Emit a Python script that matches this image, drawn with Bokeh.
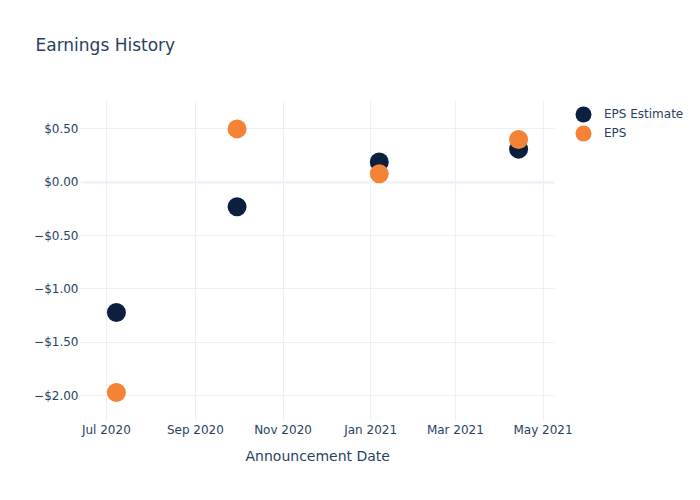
import pandas as pd
from bokeh.plotting import figure
from bokeh.models import (ColumnDataSource, Legend, LegendItem, FixedTicker, Grid, Title,
                          DatetimeTickFormatter, CustomJSTickFormatter, Range1d, BoxAnnotation)
from bokeh.embed import file_html
from bokeh.resources import INLINE

# ---- data ----
announcement_dates = ["2020-07-08", "2020-09-30", "2021-01-07", "2021-04-14"]
eps_estimate = [-1.22, -0.23, 0.19, 0.31]
eps_actual = [-1.97, 0.50, 0.08, 0.40]
x_tick_dates = ["2020-07-01", "2020-09-01", "2020-11-01", "2021-01-01", "2021-03-01", "2021-05-01"]
y_ticks = [-2.0, -1.5, -1.0, -0.5, 0.0, 0.5]
x_range_dates = ["2020-06-13", "2021-05-09"]
y_range_vals = [-2.233, 0.766]

TXT = "#2a3f5f"
GRID = "#EBF0F8"
FONT = "DejaVu Sans"
C_EST = "#0c1f3f"
C_EPS = "#f58235"

# layout (pixels)
W, H = 692, 492
LEFT, TOP, BOTTOM = 80, 100, 72
PLOT_W = 474          # visible plotting area width
FRAME_W = W - LEFT - 2  # frame extends under the legend area

src = ColumnDataSource(dict(
    date=pd.to_datetime(announcement_dates),
    est=eps_estimate,
    eps=eps_actual,
))

x0 = pd.Timestamp(x_range_dates[0])
x1 = pd.Timestamp(x_range_dates[1])
x_end = x0 + (x1 - x0) * (FRAME_W / PLOT_W)

p = figure(width=W, height=H, x_axis_type="datetime",
           output_backend="svg", toolbar_location=None,
           x_range=Range1d(x0, x_end),
           y_range=Range1d(y_range_vals[0], y_range_vals[1]),
           min_border_left=LEFT, min_border_right=2, min_border_top=TOP, min_border_bottom=BOTTOM)

p.outline_line_color = None
p.background_fill_color = "white"
p.border_fill_color = "white"
p.title.text = ""

# spacer between title and frame, then the title itself
p.add_layout(Title(text=" ", text_font_size="1px", standoff=12), "above")
p.add_layout(Title(text="Earnings History", text_font=FONT, text_font_size="17px",
                   text_font_style="normal", text_color=TXT, align="left",
                   offset=-45, standoff=62), "above")

# axes
xa = p.xaxis[0]
xa.ticker = FixedTicker(ticks=[pd.Timestamp(d).value / 1e6 for d in x_tick_dates])
xa.formatter = DatetimeTickFormatter(months="%b %Y", days="%b %Y", years="%b %Y",
                                     hours="%b %Y", minutes="%b %Y", seconds="%b %Y")

ya = p.yaxis[0]
ya.ticker = FixedTicker(ticks=y_ticks)
ya.formatter = CustomJSTickFormatter(code="""
    const v = Math.abs(tick) < 1e-9 ? 0 : tick;
    return (v < 0 ? '\\u2212' : '') + '$' + Math.abs(v).toFixed(2);
""")

for ax in (xa, ya):
    ax.axis_line_color = None
    ax.major_tick_line_color = None
    ax.minor_tick_line_color = None
    ax.major_tick_out = 0
    ax.major_tick_in = 0
    ax.minor_tick_out = 0
    ax.major_label_text_font = FONT
    ax.major_label_text_font_size = "12px"
    ax.major_label_text_color = TXT
    ax.major_label_standoff = 2

# x axis title, centred under the visible plotting area
p.add_layout(Title(text="Announcement Date", text_font=FONT, text_font_size="14px",
                   text_font_style="normal", text_color=TXT, align="left",
                   offset=165, standoff=12), "below")

# grids
p.xgrid.ticker = xa.ticker
p.ygrid.ticker = ya.ticker
p.xgrid.grid_line_color = GRID
p.ygrid.grid_line_color = GRID
zero_grid = Grid(dimension=1, ticker=FixedTicker(ticks=[0.0]), grid_line_color=GRID, grid_line_width=2)
p.add_layout(zero_grid, "center")
# blank out grid lines to the right of the plotting area (legend area)
p.add_layout(BoxAnnotation(left=x1, fill_color="white", fill_alpha=1.0, line_color=None,
                           level="underlay"), "center")

r_est = p.scatter("date", "est", source=src, size=19, color=C_EST, line_width=0)
r_eps = p.scatter("date", "eps", source=src, size=19, color=C_EPS, line_width=0)


def make_legend(label, renderer, vy):
    lg = Legend(items=[LegendItem(label=label, renderers=[renderer])],
                location=(PLOT_W + 9, vy), orientation="vertical")
    lg.glyph_width = 40
    lg.glyph_height = 40
    lg.padding = 0
    lg.margin = 0
    lg.label_standoff = 1
    lg.label_text_font = FONT
    lg.label_text_font_size = "12px"
    lg.label_text_color = TXT
    lg.background_fill_alpha = 0
    lg.border_line_color = None
    return lg


p.add_layout(make_legend("EPS Estimate", r_est, 286), "center")
p.add_layout(make_legend("EPS", r_eps, 267), "center")

open("out.html", "w").write(file_html(p, INLINE))
